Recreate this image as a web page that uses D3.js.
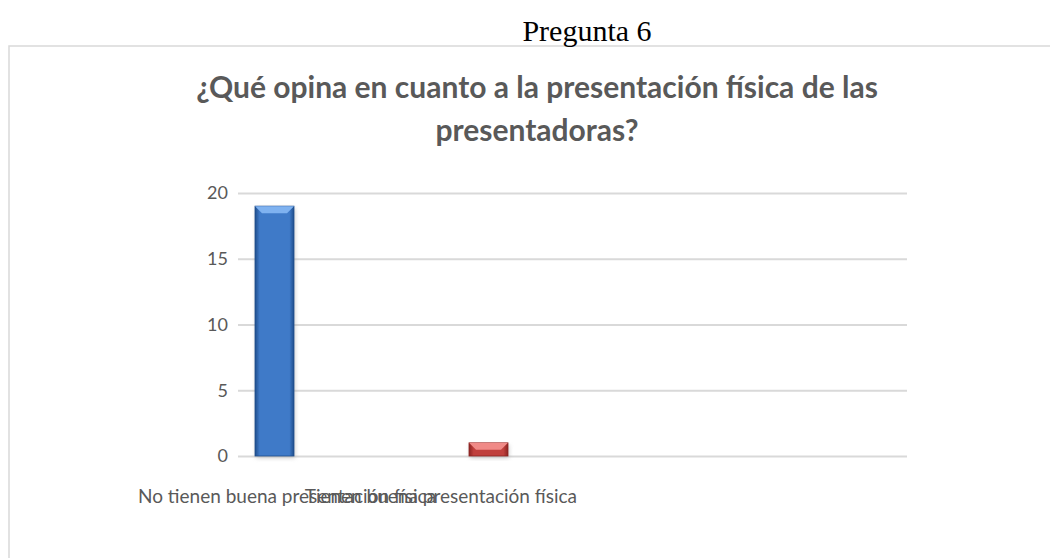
<!DOCTYPE html>
<html>
<head>
<meta charset="utf-8">
<script src="https://cdn.jsdelivr.net/npm/d3@7"></script>
<style>
  body { margin: 0; background: #fff; }
  svg { display: block; }
  .tick text { font-family: Lato, "Open Sans", sans-serif; }
</style>
</head>
<body>
<script>
// chart values
var categories = ["No tienen buena presentación física", "Tienen buena presentación física"];
var values = [19, 1];
var yTicks = [0, 5, 10, 15, 20];
var pageTitle = "Pregunta 6";
var titleLines = ["¿Qué opina en cuanto a la presentación física de las", "presentadoras?"];

var W = 1050, H = 558;
var svg = d3.select("body").append("svg").attr("width", W).attr("height", H);

// outer chart frame (runs off the right and bottom of the page)
svg.append("rect")
  .attr("x", 9).attr("y", 46)
  .attr("width", W + 20).attr("height", H)
  .attr("fill", "#fff")
  .attr("stroke", "#d9d9d9")
  .attr("stroke-width", 1.5);

// page heading above the frame
svg.append("text")
  .attr("x", 587).attr("y", 41)
  .attr("text-anchor", "middle")
  .style("font-family", "'Liberation Serif', 'Times New Roman', serif")
  .style("font-size", "30px")
  .attr("fill", "#000")
  .text(pageTitle);

// chart title, two lines
svg.append("g").selectAll("text")
  .data(titleLines)
  .enter().append("text")
  .attr("x", 537)
  .attr("y", function(d, i){ return 98 + i * 43; })
  .attr("text-anchor", "middle")
  .style("font-family", "Lato, 'Open Sans', sans-serif")
  .style("font-weight", "bold")
  .style("font-size", "30px")
  .attr("fill", "#595959")
  .text(function(d){ return d; });

// plot area
var plotLeft = 238, plotRight = 907;
var y = d3.scaleLinear().domain([0, 20]).range([456, 193]);
// bars sit in the left part of the plot area
var x = d3.scaleBand().domain(categories).range([167.5, 595.5])
  .paddingInner(1 - 39 / 214).paddingOuter((1 - 39 / 214) / 2);

// gridlines via axis
var yAxis = d3.axisLeft(y).tickValues(yTicks).tickSize(-(plotRight - plotLeft)).tickPadding(10);
var gAxis = svg.append("g")
  .attr("transform", "translate(" + plotLeft + ",0)")
  .call(yAxis);
gAxis.select(".domain").remove();
gAxis.selectAll(".tick line").attr("stroke", "#d9d9d9").attr("stroke-width", 2);
gAxis.selectAll(".tick text")
  .attr("fill", "#595959")
  .style("font-size", "18px");

// gradients for the bevelled bars
var defs = svg.append("defs");
var palettes = [
  {id: "gBlue", dark: "#1f4e8c", mid: "#3f7ac8", top: "#7fb2f0"},
  {id: "gRed", dark: "#8c2422", mid: "#c0403d", top: "#f08a87"}
];
palettes.forEach(function(p){
  var g = defs.append("linearGradient").attr("id", p.id).attr("x1", 0).attr("x2", 1).attr("y1", 0).attr("y2", 0);
  g.append("stop").attr("offset", "0%").attr("stop-color", p.dark);
  g.append("stop").attr("offset", "12%").attr("stop-color", p.mid);
  g.append("stop").attr("offset", "88%").attr("stop-color", p.mid);
  g.append("stop").attr("offset", "100%").attr("stop-color", p.dark);
});
var blur = defs.append("filter").attr("id", "sh").attr("x", "-20%").attr("y", "-20%").attr("width", "140%").attr("height", "140%");
blur.append("feGaussianBlur").attr("stdDeviation", 2);

var bars = svg.append("g").selectAll("g")
  .data(values)
  .enter().append("g");

// soft shadow
bars.append("rect")
  .attr("x", function(d, i){ return x(categories[i]) + 1; })
  .attr("y", function(d){ return y(d) + 2; })
  .attr("width", x.bandwidth())
  .attr("height", function(d){ return y(0) - y(d); })
  .attr("fill", "#999")
  .attr("opacity", 0.5)
  .attr("filter", "url(#sh)");

bars.append("rect")
  .attr("x", function(d, i){ return x(categories[i]); })
  .attr("y", function(d){ return y(d); })
  .attr("width", x.bandwidth())
  .attr("height", function(d){ return y(0) - y(d); })
  .attr("fill", function(d, i){ return "url(#" + palettes[i].id + ")"; })
  .attr("stroke", function(d, i){ return palettes[i].dark; })
  .attr("stroke-width", 0.8);

// top bevel
var bev = 7;
bars.append("path")
  .attr("d", function(d, i){
    var x0 = x(categories[i]), x1 = x0 + x.bandwidth(), t = y(d);
    return "M" + x0 + "," + t + "L" + x1 + "," + t + "L" + (x1 - bev) + "," + (t + bev) + "L" + (x0 + bev) + "," + (t + bev) + "Z";
  })
  .attr("fill", function(d, i){ return palettes[i].top; });

// category labels: they run into each other in the picture
var labelPos = [138, 577];
svg.append("g").selectAll("text")
  .data(categories)
  .enter().append("text")
  .attr("x", function(d, i){ return labelPos[i]; })
  .attr("y", 503)
  .attr("text-anchor", function(d, i){ return i === 0 ? "start" : "end"; })
  .style("font-family", "Lato, 'Open Sans', sans-serif")
  .style("font-size", "19px")
  .attr("fill", "#595959")
  .text(function(d){ return d; });
</script>
</body>
</html>
